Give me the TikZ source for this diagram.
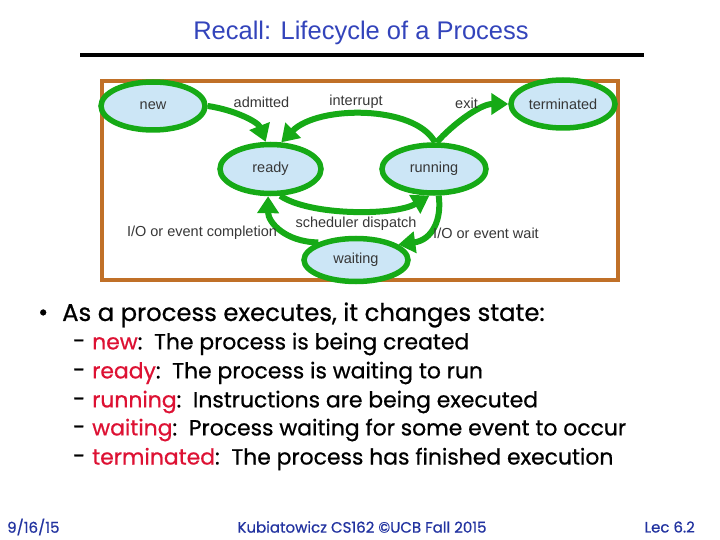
\documentclass[tikz,border=0pt]{standalone}
\usepackage{fontspec}
\setmainfont{Liberation Sans}
\newfontfamily\comic{Poppins}[FakeBold=0.7]
\usetikzlibrary{shapes.geometric,arrows.meta}
\definecolor{stgreen}{RGB}{22,170,22}
\definecolor{stfill}{RGB}{204,230,246}
\definecolor{boxor}{RGB}{192,112,40}
\definecolor{titleblue}{RGB}{51,68,187}
\definecolor{footblue}{RGB}{34,51,160}
\definecolor{lblgray}{RGB}{55,55,55}
\definecolor{kwred}{RGB}{221,17,51}
\begin{document}
\begin{tikzpicture}[x=1pt,y=-1pt,
 state/.style={ellipse,draw=stgreen,line width=5.5pt,fill=stfill,inner sep=0pt,minimum width=104pt,minimum height=48pt,font=\fontsize{14.5}{16}\selectfont,text=lblgray},
 lbl/.style={font=\fontsize{14.5}{16}\selectfont,text=lblgray,inner sep=0pt},
 trans/.style={draw=stgreen,line width=6pt,-{Triangle[length=17pt,width=21pt]}},
 body/.style={font=\comic\fontsize{21.9}{24}\selectfont,anchor=west,inner sep=0pt},
 head/.style={font=\comic\fontsize{24.3}{26}\selectfont,anchor=west,inner sep=0pt},
 foot/.style={font=\comic\fontsize{15}{17}\selectfont,text=footblue,inner sep=0pt}]
\useasboundingbox (0,0) rectangle (720,540);
% title
\node[font=\fontsize{25.5}{28}\selectfont,text=titleblue,inner sep=0pt] (title) at (361,33) {Recall: Lifecycle of a Process};
\draw[line width=4pt] (80,55) -- (644,55);
% frame
\draw[boxor,line width=4pt] (102,81) rectangle (618,280);
% states
\node[state] (new) at (153,106) {new};
\node[state] (term) at (563,104) {terminated};
\node[state,minimum width=101pt,minimum height=49pt] (ready) at (270.5,169) {ready};
\node[state] (run) at (434,169) {running};
\node[state,minimum height=43pt] (wait) at (356,260) {waiting};
% transitions
\draw[trans] (new.east) .. controls (235,110) and (258,122) .. (ready.100);
\draw[trans] (run.88) .. controls (415,105) and (318,105) .. (ready.68);
\draw[trans] (run.84) .. controls (452,125) and (480,104) .. (term.west);
\draw[trans] (ready.-70) .. controls (310,216) and (395,216) .. (run.-100);
\draw[trans] (run.-80) .. controls (442,220) and (432,240) .. (wait.20);
\draw[trans] (wait.155) .. controls (285,242) and (268,222) .. (ready.-95);
% labels
\node[lbl] (ladm) at (261.5,102) {admitted};
\node[lbl] (lint) at (356,102) {interrupt};
\node[lbl] (lexit) at (466.5,103) {exit};
\node[lbl] (ldisp) at (356,224) {scheduler dispatch};
\node[lbl] (lcomp) at (202,233) {I/O or event completion};
\node[lbl] (lwait) at (486,233) {I/O or event wait};
% bullet text
\node[head] (b0) at (38,315) {•};
\node[head] (t0) at (62,315) {As a process executes, it changes state:};
\node[body] (d1) at (73,344) {-};
\node[body] (t1) at (92,344) {\textcolor{kwred}{new}:\ \ The process is being created};
\node[body] (d2) at (73,373) {-};
\node[body] (t2) at (92,373) {\textcolor{kwred}{ready}:\ \ The process is waiting to run};
\node[body] (d3) at (73,402) {-};
\node[body] (t3) at (92,402) {\textcolor{kwred}{running}:\ \ Instructions are being executed};
\node[body] (d4) at (73,430) {-};
\node[body] (t4) at (92,430) {\textcolor{kwred}{waiting}:\ \ Process waiting for some event to occur};
\node[body] (d5) at (73,459) {-};
\node[body] (t5) at (92,459) {\textcolor{kwred}{terminated}:\ \ The process has finished execution};
% footer
\node[foot,anchor=west] (fdate) at (7,527) {9/16/15};
\node[foot] (fmid) at (362,527) {Kubiatowicz CS162 ©UCB Fall 2015};
\node[foot,anchor=east] (flec) at (695,527) {Lec 6.2};
\end{tikzpicture}
\end{document}
